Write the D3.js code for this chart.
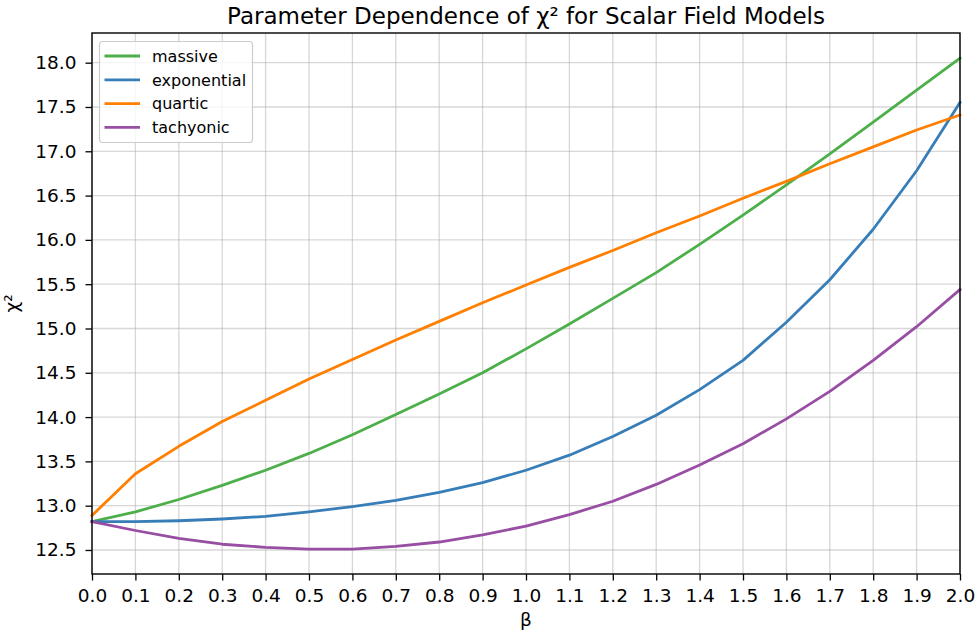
<!DOCTYPE html>
<html>
<head>
<meta charset="utf-8">
<script src="https://cdn.jsdelivr.net/npm/d3@7"></script>
<style>
  html, body { margin: 0; padding: 0; background: #fff; }
  svg { display: block; font-family: "DejaVu Sans", sans-serif; }
</style>
</head>
<body>
<svg id="chart" width="977" height="637"></svg>
<script>
// β grid and χ² values for each scalar field model
const beta = [0.0, 0.1, 0.2, 0.3, 0.4, 0.5, 0.6, 0.7, 0.8, 0.9, 1.0,
              1.1, 1.2, 1.3, 1.4, 1.5, 1.6, 1.7, 1.8, 1.9, 2.0];
const massive     = [12.82, 12.93, 13.07, 13.23, 13.40, 13.59, 13.80, 14.03, 14.26, 14.50, 14.77,
                     15.05, 15.34, 15.63, 15.95, 16.28, 16.62, 16.97, 17.33, 17.69, 18.05];
const exponential = [12.82, 12.82, 12.83, 12.85, 12.88, 12.93, 12.99, 13.06, 13.15, 13.26, 13.40,
                     13.57, 13.78, 14.02, 14.31, 14.64, 15.07, 15.55, 16.12, 16.78, 17.55];
const quartic     = [12.89, 13.36, 13.67, 13.95, 14.19, 14.43, 14.65, 14.87, 15.08, 15.29, 15.49,
                     15.69, 15.88, 16.08, 16.27, 16.47, 16.66, 16.86, 17.05, 17.24, 17.41];
const tachyonic   = [12.82, 12.72, 12.63, 12.565, 12.53, 12.51, 12.51, 12.54, 12.59, 12.67, 12.77,
                     12.90, 13.05, 13.24, 13.46, 13.70, 13.98, 14.29, 14.64, 15.02, 15.44];

const seriesNames  = ["massive", "exponential", "quartic", "tachyonic"];
const seriesValues = [massive, exponential, quartic, tachyonic];
const seriesColors = ["#4daf4a", "#377eb8", "#ff7f00", "#984ea3"];

const xTicks = d3.range(0, 21).map(i => i / 10);
const yTicks = d3.range(0, 12).map(i => 12.5 + i * 0.5);

const svg = d3.select("#chart");
const plotLeft = 92, plotRight = 960, plotTop = 33, plotBottom = 574;

const x = d3.scaleLinear().domain([0, 2]).range([plotLeft, plotRight]);
const y = d3.scaleLinear().domain([12.229, 18.335]).range([plotBottom, plotTop]);

// grid
const grid = svg.append("g");
grid.selectAll("line.gx").data(xTicks).join("line")
  .attr("x1", d => x(d)).attr("x2", d => x(d))
  .attr("y1", plotTop).attr("y2", plotBottom)
  .attr("stroke", "#b0b0b0").attr("stroke-opacity", 0.5).attr("stroke-width", 1.3);
grid.selectAll("line.gy").data(yTicks).join("line")
  .attr("x1", plotLeft).attr("x2", plotRight)
  .attr("y1", d => y(d)).attr("y2", d => y(d))
  .attr("stroke", "#b0b0b0").attr("stroke-opacity", 0.5).attr("stroke-width", 1.3);

// series lines
const line = d3.line().x((d, i) => x(beta[i])).y(d => y(d));
seriesValues.forEach((vals, k) => {
  svg.append("path")
    .datum(vals)
    .attr("d", line)
    .attr("fill", "none")
    .attr("stroke", seriesColors[k])
    .attr("stroke-width", 2.8)
    .attr("stroke-linejoin", "round")
    .attr("stroke-linecap", "square");
});

// frame
svg.append("rect")
  .attr("x", plotLeft).attr("y", plotTop)
  .attr("width", plotRight - plotLeft).attr("height", plotBottom - plotTop)
  .attr("fill", "none").attr("stroke", "#000").attr("stroke-width", 1.4);

// axes
const xAxis = d3.axisBottom(x).tickValues(xTicks).tickFormat(d3.format(".1f"))
  .tickSizeOuter(0).tickSizeInner(6.5).tickPadding(8.5);
const yAxis = d3.axisLeft(y).tickValues(yTicks).tickFormat(d3.format(".1f"))
  .tickSizeOuter(0).tickSizeInner(6.5).tickPadding(9);

const gx = svg.append("g").attr("transform", `translate(0,${plotBottom})`).call(xAxis);
const gy = svg.append("g").attr("transform", `translate(${plotLeft},0)`).call(yAxis);
[gx, gy].forEach(g => {
  g.select(".domain").remove();
  g.selectAll(".tick line").attr("stroke", "#000").attr("stroke-width", 1.3);
  g.selectAll(".tick text").attr("fill", "#000")
    .style("font-family", "DejaVu Sans").style("font-size", "18.5px");
});

// titles
svg.append("text")
  .attr("x", (plotLeft + plotRight) / 2).attr("y", 23.5)
  .attr("text-anchor", "middle")
  .style("font-size", "23px")
  .text("Parameter Dependence of χ² for Scalar Field Models");

svg.append("text")
  .attr("x", (plotLeft + plotRight) / 2).attr("y", 626)
  .attr("text-anchor", "middle")
  .style("font-size", "18.5px")
  .text("β");

svg.append("text")
  .attr("transform", `translate(18,${(plotTop + plotBottom) / 2}) rotate(-90)`)
  .attr("text-anchor", "middle")
  .style("font-size", "18.5px")
  .text("χ²");

// legend
const lg = svg.append("g").attr("transform", "translate(99.5,41.5)");
lg.append("rect")
  .attr("width", 153).attr("height", 101).attr("rx", 3)
  .attr("fill", "#fff").attr("fill-opacity", 0.8)
  .attr("stroke", "#cccccc").attr("stroke-width", 1.2);
seriesNames.forEach((name, k) => {
  const row = lg.append("g").attr("transform", `translate(0,${14.5 + k * 23.8})`);
  row.append("line")
    .attr("x1", 5).attr("x2", 40.5).attr("y1", 0).attr("y2", 0)
    .attr("stroke", seriesColors[k]).attr("stroke-width", 2.8);
  row.append("text")
    .attr("x", 52.5).attr("y", 5.8)
    .style("font-size", "16px")
    .text(name);
});
</script>
</body>
</html>
